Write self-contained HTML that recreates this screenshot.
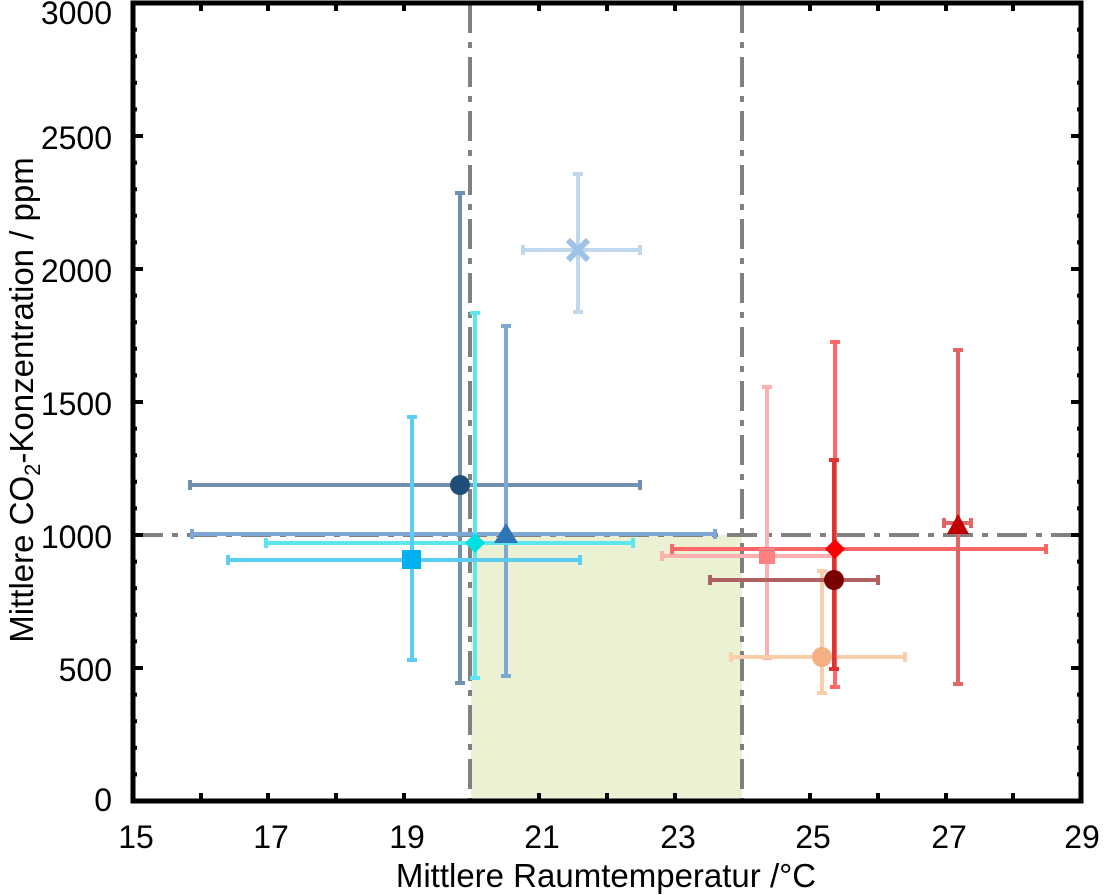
<!DOCTYPE html>
<html><head><meta charset="utf-8"><style>body{margin:0;background:#fff}svg{display:block}text{font-family:"Liberation Sans",sans-serif;fill:#000}</style></head><body>
<svg width="1104" height="895" viewBox="0 0 1104 895">
<rect x="471" y="535" width="271" height="266" fill="#ebf1d3"/>
<g stroke="#808080" stroke-width="4" fill="none" stroke-dasharray="30,9,6,9">
<line x1="470" y1="3" x2="470" y2="801"/><line x1="742" y1="3" x2="742" y2="801"/>
<line x1="133" y1="535" x2="1081" y2="535"/></g>
<g stroke-width="4" fill="none">
<g stroke="#7090b0"><line x1="190" y1="485" x2="640" y2="485"/><line x1="460" y1="193" x2="460" y2="683"/>
<line x1="190" y1="480" x2="190" y2="490"/><line x1="640" y1="480" x2="640" y2="490"/><line x1="455" y1="193" x2="465" y2="193"/><line x1="455" y1="683" x2="465" y2="683"/></g>
<g stroke="#7fa7d6"><line x1="192" y1="534" x2="715" y2="534"/><line x1="506" y1="326" x2="506" y2="676"/>
<line x1="192" y1="529" x2="192" y2="539"/><line x1="715" y1="529" x2="715" y2="539"/><line x1="501" y1="326" x2="511" y2="326"/><line x1="501" y1="676" x2="511" y2="676"/></g>
<g stroke="#5ee6ee"><line x1="266" y1="543" x2="633" y2="543"/><line x1="475" y1="313" x2="475" y2="678"/>
<line x1="266" y1="538" x2="266" y2="548"/><line x1="633" y1="538" x2="633" y2="548"/><line x1="470" y1="313" x2="480" y2="313"/><line x1="470" y1="678" x2="480" y2="678"/></g>
<g stroke="#5ccdf2"><line x1="228" y1="560" x2="580" y2="560"/><line x1="412" y1="417" x2="412" y2="660"/>
<line x1="228" y1="555" x2="228" y2="565"/><line x1="580" y1="555" x2="580" y2="565"/><line x1="407" y1="417" x2="417" y2="417"/><line x1="407" y1="660" x2="417" y2="660"/></g>
<g stroke="#c0d8ee"><line x1="523" y1="250" x2="640" y2="250"/><line x1="578" y1="174" x2="578" y2="312"/>
<line x1="523" y1="245" x2="523" y2="255"/><line x1="640" y1="245" x2="640" y2="255"/><line x1="573" y1="174" x2="583" y2="174"/><line x1="573" y1="312" x2="583" y2="312"/></g>
<g stroke="#ffb0b0"><line x1="662" y1="556" x2="833" y2="556"/><line x1="767" y1="387" x2="767" y2="658"/>
<line x1="662" y1="551" x2="662" y2="561"/><line x1="762" y1="387" x2="772" y2="387"/><line x1="762" y1="658" x2="772" y2="658"/></g>
<g stroke="#f8cfaa"><line x1="731" y1="657" x2="905" y2="657"/><line x1="822" y1="571" x2="822" y2="693"/>
<line x1="731" y1="652" x2="731" y2="662"/><line x1="905" y1="652" x2="905" y2="662"/><line x1="817" y1="571" x2="827" y2="571"/><line x1="817" y1="693" x2="827" y2="693"/></g>
<g stroke="#ff6666"><line x1="672" y1="549" x2="1046" y2="549"/><line x1="835" y1="342" x2="835" y2="687"/>
<line x1="672" y1="544" x2="672" y2="554"/><line x1="1046" y1="544" x2="1046" y2="554"/><line x1="830" y1="342" x2="840" y2="342"/><line x1="830" y1="687" x2="840" y2="687"/></g>
<g stroke="#b06060"><line x1="710" y1="580" x2="878" y2="580"/>
<line x1="710" y1="575" x2="710" y2="585"/><line x1="878" y1="575" x2="878" y2="585"/></g>
<g stroke="#dd3333"><line x1="834" y1="460" x2="834" y2="669"/><line x1="829" y1="460" x2="839" y2="460"/><line x1="829" y1="669" x2="839" y2="669"/></g>
<g stroke="#e06666"><line x1="944" y1="523" x2="971" y2="523"/><line x1="958" y1="350" x2="958" y2="684"/>
<line x1="944" y1="518" x2="944" y2="528"/><line x1="971" y1="518" x2="971" y2="528"/><line x1="953" y1="350" x2="963" y2="350"/><line x1="953" y1="684" x2="963" y2="684"/></g>
</g>
<circle cx="460" cy="485" r="10" fill="#1f4e79"/>
<polygon points="506,523 518,543 494,543" fill="#2e75b6"/>
<polygon points="475,533 485,543 475,553 465,543" fill="#00e0e0"/>
<rect x="402" y="550" width="19" height="19" fill="#00b0f0"/>
<g stroke="#9dc3e6" stroke-width="6"><line x1="568" y1="240" x2="588" y2="260"/><line x1="588" y1="240" x2="568" y2="260"/></g>
<rect x="759" y="548" width="16" height="16" fill="#ff8080"/>
<circle cx="822" cy="657" r="10" fill="#f4b183"/>
<polygon points="835,539 845,549 835,559 825,549" fill="#ff0000"/>
<circle cx="834" cy="580" r="10" fill="#7b0000"/>
<polygon points="958,514 969,534 947,534" fill="#c00000"/>
<rect x="133" y="3" width="948" height="798" fill="none" stroke="#000" stroke-width="5"/>
<g stroke="#000" stroke-width="4">
<line x1="133" y1="535" x2="143" y2="535"/><line x1="133" y1="269" x2="143" y2="269"/><line x1="133" y1="402" x2="143" y2="402"/><line x1="133" y1="136" x2="143" y2="136"/><line x1="133" y1="668" x2="143" y2="668"/>
<line x1="1081" y1="535" x2="1071" y2="535"/><line x1="1081" y1="269" x2="1071" y2="269"/><line x1="1081" y1="402" x2="1071" y2="402"/><line x1="1081" y1="136" x2="1071" y2="136"/><line x1="1081" y1="668" x2="1071" y2="668"/>
</g>
<g stroke="#000" stroke-width="4" stroke-dasharray="4,22.6" stroke-dashoffset="-24.6">
<line x1="135" y1="3" x2="135" y2="801"/><line x1="1079" y1="3" x2="1079" y2="801"/></g>
<g stroke="#000" stroke-width="4">
<line x1="201" y1="801" x2="201" y2="793"/><line x1="268" y1="801" x2="268" y2="793"/><line x1="336" y1="801" x2="336" y2="793"/><line x1="404" y1="801" x2="404" y2="793"/><line x1="539" y1="801" x2="539" y2="793"/><line x1="607" y1="801" x2="607" y2="793"/><line x1="675" y1="801" x2="675" y2="793"/><line x1="810" y1="801" x2="810" y2="793"/><line x1="878" y1="801" x2="878" y2="793"/><line x1="946" y1="801" x2="946" y2="793"/><line x1="1013" y1="801" x2="1013" y2="793"/>
<line x1="201" y1="3" x2="201" y2="11"/><line x1="268" y1="3" x2="268" y2="11"/><line x1="336" y1="3" x2="336" y2="11"/><line x1="404" y1="3" x2="404" y2="11"/><line x1="539" y1="3" x2="539" y2="11"/><line x1="607" y1="3" x2="607" y2="11"/><line x1="675" y1="3" x2="675" y2="11"/><line x1="810" y1="3" x2="810" y2="11"/><line x1="878" y1="3" x2="878" y2="11"/><line x1="946" y1="3" x2="946" y2="11"/><line x1="1013" y1="3" x2="1013" y2="11"/>
</g>
<g font-size="32" text-anchor="end">
<text x="112" y="24">3000</text><text x="112" y="149">2500</text><text x="112" y="282">2000</text><text x="112" y="415">1500</text><text x="112" y="548">1000</text><text x="112" y="681">500</text><text x="112" y="811">0</text></g>
<g font-size="32" text-anchor="middle">
<text x="136" y="848">15</text><text x="271" y="848">17</text><text x="407" y="848">19</text><text x="542" y="848">21</text><text x="678" y="848">23</text><text x="813" y="848">25</text><text x="949" y="848">27</text><text x="1082" y="848">29</text>
<text x="606" y="887" font-size="33">Mittlere Raumtemperatur /°C</text>
<text transform="translate(33,400) rotate(-90)" font-size="33">Mittlere CO<tspan font-size="22" dy="7">2</tspan><tspan dy="-7">-Konzentration / ppm</tspan></text>
</g>
</svg>
</body></html>
